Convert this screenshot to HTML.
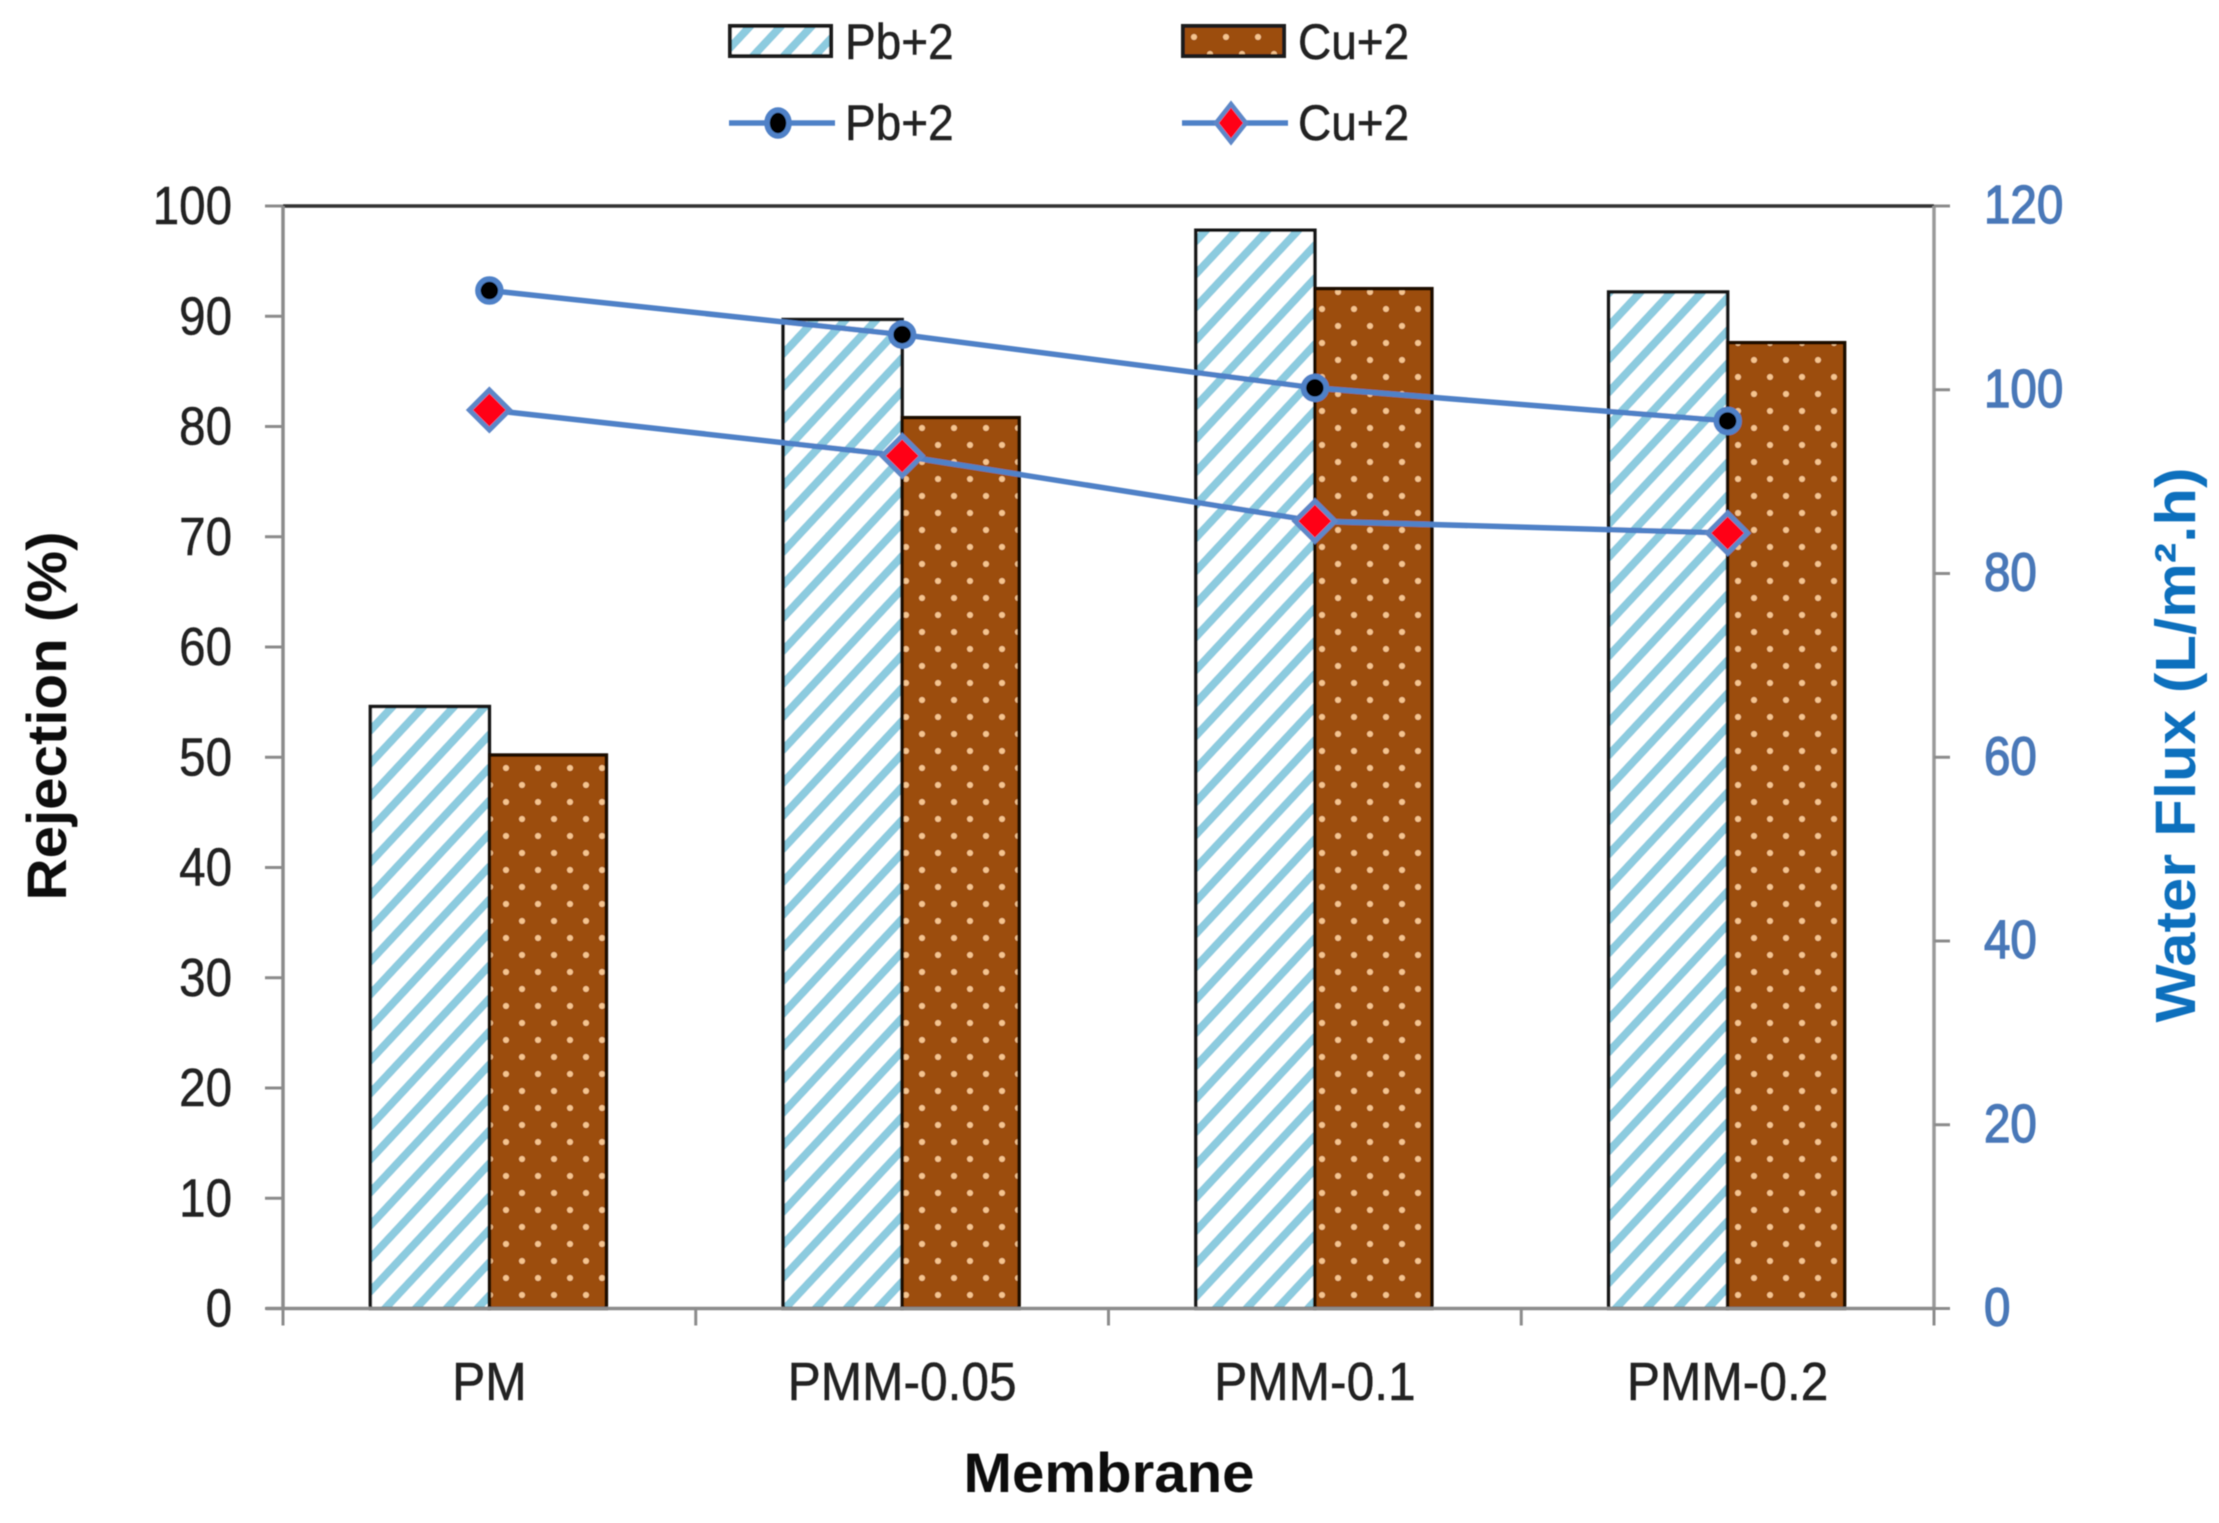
<!DOCTYPE html>
<html lang="en">
<head>
<meta charset="utf-8">
<title>Rejection and water flux by membrane</title>
<style>
  html, body { margin: 0; padding: 0; background: #fff; }
  svg { display: block; font-family: "Liberation Sans", sans-serif; }
</style>
</head>
<body>
<svg id="chart" width="2219" height="1523" viewBox="0 0 2219 1523" xmlns="http://www.w3.org/2000/svg">
  <defs>
    <filter id="soft" x="0" y="0" width="100%" height="100%" filterUnits="objectBoundingBox">
      <feGaussianBlur stdDeviation="0.6"></feGaussianBlur>
    </filter>
    <pattern id="hatch" patternUnits="userSpaceOnUse" width="22.5" height="22.5" patternTransform="rotate(-47)">
      <rect width="22.5" height="22.5" fill="#ffffff"></rect>
      <rect y="0" width="22.5" height="8" fill="#8ccbdf"></rect>
    </pattern>
    <pattern id="dots" patternUnits="userSpaceOnUse" width="32" height="34" x="26" y="20">
      <rect width="32" height="34" fill="#9c4d0a"></rect>
      <circle cx="0" cy="0" r="3" fill="#f6c48e"></circle>
      <circle cx="32" cy="0" r="3" fill="#f6c48e"></circle>
      <circle cx="0" cy="34" r="3" fill="#f6c48e"></circle>
      <circle cx="32" cy="34" r="3" fill="#f6c48e"></circle>
      <circle cx="16" cy="17" r="3" fill="#f6c48e"></circle>
    </pattern>
  </defs>

  <rect width="2219" height="1523" fill="#ffffff"></rect>
  <g id="canvas" filter="url(#soft)">
  <g id="bars"></g>

  <g id="frame"></g>
  <g id="left-axis"></g>
  <g id="right-axis"></g>
  <g id="x-axis"></g>
  <g id="lines"></g>

  <text x="1109" y="1492" text-anchor="middle" font-size="56" font-weight="700" fill="#111" textLength="291" lengthAdjust="spacingAndGlyphs">Membrane</text>
  <text transform="translate(66 716) rotate(-90)" x="0" y="0" text-anchor="middle" font-size="56" font-weight="700" fill="#111" textLength="369" lengthAdjust="spacingAndGlyphs">Rejection (%)</text>
  <text transform="translate(2195 745) rotate(-90)" x="0" y="0" text-anchor="middle" font-size="57" font-weight="700" fill="#0f6fbd" textLength="555" lengthAdjust="spacingAndGlyphs">Water Flux (L/m²<tspan font-size="1" fill="none"></tspan>.h)</text>

  <g>
    <g>
      <rect x="730" y="26" width="101" height="30" fill="url(#hatch)" stroke="#1a1a1a" stroke-width="4"></rect>
      <text transform="translate(845 59) scale(.92 1)" font-size="50" fill="#222" stroke="#222" stroke-width=".5">Pb+2</text>
    </g>
    <g>
      <rect x="1183" y="26" width="101" height="30" fill="url(#dots)" stroke="#1a1a1a" stroke-width="4"></rect>
      <text transform="translate(1298 59) scale(.92 1)" font-size="50" fill="#222" stroke="#222" stroke-width=".5">Cu+2</text>
    </g>
    <g>
      <line x1="729" y1="123" x2="835" y2="123" stroke="#4f81c7" stroke-width="5.5"></line>
      <ellipse cx="778" cy="123" rx="11" ry="13" fill="#000" stroke="#4f81c7" stroke-width="5.5"></ellipse>
      <text transform="translate(845 140) scale(.92 1)" font-size="50" fill="#222" stroke="#222" stroke-width=".5">Pb+2</text>
    </g>
    <g>
      <line x1="1182" y1="123" x2="1288" y2="123" stroke="#4f81c7" stroke-width="5.5"></line>
      <polygon points="1231,104 1246,123 1231,142 1216,123" fill="#ff0018" stroke="#5d87c8" stroke-width="4.5"></polygon>
      <text transform="translate(1298 140) scale(.92 1)" font-size="50" fill="#222" stroke="#222" stroke-width=".5">Cu+2</text>
    </g>
  </g>
  </g>
</svg>

<script>
const categories = ["PM", "PMM-0.05", "PMM-0.1", "PMM-0.2"];
const pbRejection = [54.6, 89.7, 97.8, 92.2];
const cuRejection = [50.2, 80.8, 92.5, 87.6];
const pbFlux = [110.8, 106, 100.2, 96.6];
const cuFlux = [97.8, 92.8, 85.7, 84.4];
const leftTicks = [0, 10, 20, 30, 40, 50, 60, 70, 80, 90, 100];
const rightTicks = [0, 20, 40, 60, 80, 100, 120];

const NS = "http://www.w3.org/2000/svg";
const plotLeft = 283, plotRight = 1934, plotTop = 206, plotBottom = 1308.5;
const leftMax = 100, rightMax = 120, barWidth = 119;

function yLeft(v) { return plotBottom - (v / leftMax) * (plotBottom - plotTop); }
function yRight(v) { return plotBottom - (v / rightMax) * (plotBottom - plotTop); }
function xBand(i) { return plotLeft + i * (plotRight - plotLeft) / categories.length; }
function xCenter(i) { return xBand(i + 0.5); }

function make(tag, parent, attrs, text) {
  const el = document.createElementNS(NS, tag);
  for (const k in attrs) el.setAttribute(k, attrs[k]);
  if (text !== undefined) el.textContent = text;
  parent.appendChild(el);
  return el;
}

const barsG = document.getElementById("bars");
categories.forEach(function (cat, i) {
  const c = xCenter(i);
  const pb = make("rect", barsG, { x: c - barWidth, y: yLeft(pbRejection[i]), width: barWidth, height: plotBottom - yLeft(pbRejection[i]), fill: "url(#hatch)", stroke: "#161616", "stroke-width": 3.5 });
  
  
  const cu = make("rect", barsG, { x: c, y: yLeft(cuRejection[i]), width: barWidth - 2, height: plotBottom - yLeft(cuRejection[i]), fill: "url(#dots)", stroke: "#1c0d02", "stroke-width": 3.5 });
  
  
});

const frameG = document.getElementById("frame");
const edgeTop = make("line", frameG, { x1: plotLeft, y1: plotTop, x2: plotRight, y2: plotTop, stroke: "#333", "stroke-width": 3.5 });


const edgeLeft = make("line", frameG, { x1: plotLeft, y1: plotTop, x2: plotLeft, y2: plotBottom, stroke: "#8c8c8c", "stroke-width": 3.5 });


const edgeRight = make("line", frameG, { x1: plotRight, y1: plotTop, x2: plotRight, y2: plotBottom, stroke: "#9a9a9a", "stroke-width": 3.5 });


const edgeBottom = make("line", frameG, { x1: plotLeft - 17, y1: plotBottom, x2: plotRight, y2: plotBottom, stroke: "#8c8c8c", "stroke-width": 3.5 });



const leftG = document.getElementById("left-axis");
leftTicks.forEach(function (v) {
  const y = yLeft(v);
  const t = make("line", leftG, { x1: plotLeft - 18, y1: y, x2: plotLeft, y2: y, stroke: "#8c8c8c", "stroke-width": 3 });
  
  
  const l = make("text", leftG, { transform: "translate(232 " + (y + 18) + ") scale(.88 1)", "text-anchor": "end", "font-size": 54, fill: "#222", stroke: "#222", "stroke-width": 0.5 }, String(v));
  
  
});

const rightG = document.getElementById("right-axis");
rightTicks.forEach(function (v) {
  const y = yRight(v);
  const t = make("line", rightG, { x1: plotRight, y1: y, x2: plotRight + 16, y2: y, stroke: "#8c8c8c", "stroke-width": 3 });
  
  
  const l = make("text", rightG, { transform: "translate(1984 " + (y + 17) + ") scale(.88 1)", "text-anchor": "start", "font-size": 54, fill: "#4a78b8", stroke: "#4a78b8", "stroke-width": 1.4 }, String(v));
  
  
});

const xG = document.getElementById("x-axis");
for (let i = 0; i <= categories.length; i++) {
  const t = make("line", xG, { x1: xBand(i), y1: plotBottom, x2: xBand(i), y2: plotBottom + 17, stroke: "#8c8c8c", "stroke-width": 3 });
  
  
}
categories.forEach(function (cat, i) {
  const l = make("text", xG, { transform: "translate(" + xCenter(i) + " 1400) scale(.92 1)", "text-anchor": "middle", "font-size": 54, fill: "#222", stroke: "#222", "stroke-width": 0.5 }, cat);
  
  
});

const linesG = document.getElementById("lines");
function pathFor(values) {
  return values.map(function (v, i) { return xCenter(i) + "," + yRight(v); }).join(" ");
}
const linePb = make("polyline", linesG, { points: pathFor(pbFlux), fill: "none", stroke: "#4f81c7", "stroke-width": 5.5 });


const lineCu = make("polyline", linesG, { points: pathFor(cuFlux), fill: "none", stroke: "#4f81c7", "stroke-width": 5.5 });



pbFlux.forEach(function (v, i) {
  const m = make("circle", linesG, { cx: xCenter(i), cy: yRight(v), r: 11.5, fill: "#000", stroke: "#4f81c7", "stroke-width": 5.5 });
  
  
});
cuFlux.forEach(function (v, i) {
  const x = xCenter(i), y = yRight(v), r = 20;
  const m = make("polygon", linesG, { points: x + "," + (y - r) + " " + (x + r) + "," + y + " " + x + "," + (y + r) + " " + (x - r) + "," + y, fill: "#ff0018", stroke: "#5d87c8", "stroke-width": 5 });
  
  
});
</script>
</body>
</html>
